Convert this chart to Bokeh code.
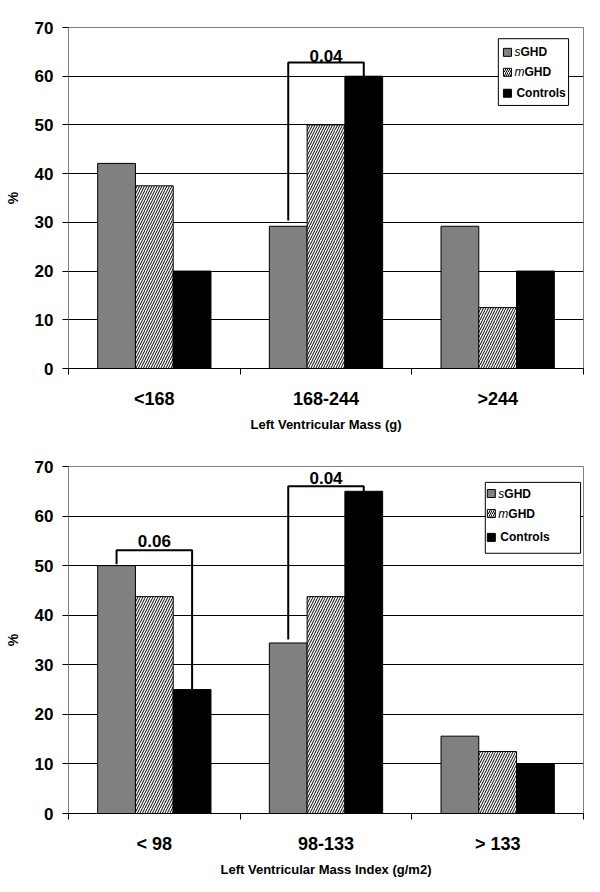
from bokeh.plotting import figure
from bokeh.models import Range1d, FixedTicker
from bokeh.layouts import column
from bokeh.embed import file_html
from bokeh.resources import INLINE
from bokeh.core.properties import value
import numpy as np

# ---------------- data ----------------
series_names = ["sGHD", "mGHD", "Controls"]
y_ticks = [0, 10, 20, 30, 40, 50, 60, 70]

mass_categories = ["<168", "168-244", ">244"]
mass_sghd = [42.1, 29.2, 29.2]
mass_mghd = [37.5, 50.0, 12.5]
mass_controls = [20.0, 60.0, 20.0]
mass_title = "Left Ventricular Mass (g)"
# bracket: category index, left foot, right foot, bar height, label baseline, label
mass_brackets = [(1, 30.4, 60.0, 62.8, 64.1, "0.04")]

index_categories = ["< 98", "98-133", "> 133"]
index_sghd = [50.0, 34.4, 15.6]
index_mghd = [43.75, 43.75, 12.5]
index_controls = [25.0, 65.0, 10.0]
index_title = "Left Ventricular Mass Index (g/m2)"
index_brackets = [(0, 50.3, 25.0, 53.1, 54.9, "0.06"),
                  (1, 35.1, 65.0, 66.0, 67.6, "0.04")]

FONT = value("Liberation Sans")
BAR_W = 0.22


def make_chart(cats, s_vals, m_vals, c_vals, brackets, xlabel,
               frame_h, top_b, bottom_b, leg):
    p = figure(frame_width=515, frame_height=frame_h,
               x_range=Range1d(-0.5, 2.5), y_range=Range1d(0, 70),
               output_backend="svg", toolbar_location=None,
               min_border_left=68, min_border_right=8,
               min_border_top=top_b, min_border_bottom=bottom_b)
    p.background_fill_color = "white"
    p.border_fill_color = "white"
    p.outline_line_color = "#808080"
    p.outline_line_width = 1

    x = np.arange(len(cats))
    p.vbar(x=x - BAR_W, top=s_vals, width=BAR_W, fill_color="#808080",
           line_color="black", line_width=1)
    p.vbar(x=x, top=m_vals, width=BAR_W, fill_color="white",
           line_color="black", line_width=1,
           hatch_pattern="right_diagonal_line", hatch_color="black",
           hatch_scale=5, hatch_weight=1)
    p.vbar(x=x + BAR_W, top=c_vals, width=BAR_W, fill_color="black",
           line_color="black", line_width=1)

    # significance brackets
    for (ci, lf, rf, top, ly, lab) in brackets:
        xl, xr = ci - BAR_W, ci + BAR_W
        p.line(x=[xl, xl, xr, xr], y=[lf, top, top, rf],
               line_color="black", line_width=2)
        p.text(x=[(xl + xr) / 2], y=[ly], text=[lab], text_font=FONT,
               text_font_style="bold", text_font_size="17px",
               text_align="center", text_baseline="alphabetic",
               text_color="black")

    # custom legend
    bl, br, bt, bb, sx, rows = leg
    p.quad(left=[bl], right=[br], top=[bt], bottom=[bb],
           fill_color="white", line_color="black", line_width=1)
    p.rect(x=[sx], y=[rows[0]], width=8, height=8, width_units="screen",
           height_units="screen", fill_color="#808080", line_color="black")
    p.rect(x=[sx], y=[rows[1]], width=8, height=8, width_units="screen",
           height_units="screen", fill_color="white", line_color="black",
           hatch_pattern="right_diagonal_line", hatch_color="black",
           hatch_scale=4, hatch_weight=1)
    p.rect(x=[sx], y=[rows[2]], width=8, height=8, width_units="screen",
           height_units="screen", fill_color="black", line_color="black")
    common = dict(text_font=FONT, text_font_size="12px", text_baseline="middle",
                  text_align="left", text_color="black")
    p.text(x=[sx], y=[rows[0]], text=["s"], x_offset=7,
           text_font_style="italic", **common)
    p.text(x=[sx], y=[rows[0]], text=["GHD"], x_offset=13,
           text_font_style="bold", **common)
    p.text(x=[sx], y=[rows[1]], text=["m"], x_offset=7,
           text_font_style="italic", **common)
    p.text(x=[sx], y=[rows[1]], text=["GHD"], x_offset=17,
           text_font_style="bold", **common)
    p.text(x=[sx], y=[rows[2]], text=["Controls"], x_offset=9,
           text_font_style="bold", **common)

    # grid
    p.xgrid.visible = False
    p.ygrid.ticker = FixedTicker(ticks=y_ticks[1:-1])
    p.ygrid.grid_line_color = "black"
    p.ygrid.grid_line_width = 1

    # y axis
    ya = p.yaxis[0]
    ya.ticker = FixedTicker(ticks=y_ticks)
    ya.axis_line_color = "#808080"
    ya.major_tick_line_color = "black"
    ya.major_tick_out = 6
    ya.major_tick_in = 0
    ya.minor_tick_line_color = None
    ya.major_label_text_font = "Liberation Sans"
    ya.major_label_text_font_style = "bold"
    ya.major_label_text_font_size = "17px"
    ya.major_label_text_color = "black"
    ya.major_label_standoff = 9
    ya.axis_label = "%"
    ya.axis_label_text_font = "Liberation Sans"
    ya.axis_label_text_font_style = "bold"
    ya.axis_label_text_font_size = "14px"
    ya.axis_label_text_color = "black"
    ya.axis_label_standoff = 11

    # x axis
    xa = p.xaxis[0]
    xa.ticker = FixedTicker(ticks=list(range(len(cats))),
                            minor_ticks=[-0.5, 0.5, 1.5, 2.5])
    xa.major_label_overrides = {i: c for i, c in enumerate(cats)}
    xa.axis_line_color = "black"
    xa.major_tick_line_color = None
    xa.major_tick_out = 0
    xa.major_tick_in = 0
    xa.minor_tick_line_color = "black"
    xa.minor_tick_out = 6
    xa.minor_tick_in = 0
    xa.major_label_text_font = "Liberation Sans"
    xa.major_label_text_font_style = "bold"
    xa.major_label_text_font_size = "18px"
    xa.major_label_text_color = "black"
    xa.major_label_standoff = 14
    xa.axis_label = xlabel
    xa.axis_label_text_font = "Liberation Sans"
    xa.axis_label_text_font_style = "bold"
    xa.axis_label_text_font_size = "13px"
    xa.axis_label_text_color = "black"
    xa.axis_label_standoff = 5
    return p


leg_top = (2.004, 2.413, 67.7, 54.0, 2.057, [64.9, 60.8, 56.5])
leg_bot = (1.928, 2.483, 66.8, 52.5, 1.963, [64.55, 60.5, 55.7])

p1 = make_chart(mass_categories, mass_sghd, mass_mghd, mass_controls,
                mass_brackets, mass_title, 341, 27, 70, leg_top)
p2 = make_chart(index_categories, index_sghd, index_mghd, index_controls,
                index_brackets, index_title, 347, 28, 71, leg_bot)

layout = column(p1, p2, spacing=0)
open("out.html", "w").write(file_html(layout, INLINE))
